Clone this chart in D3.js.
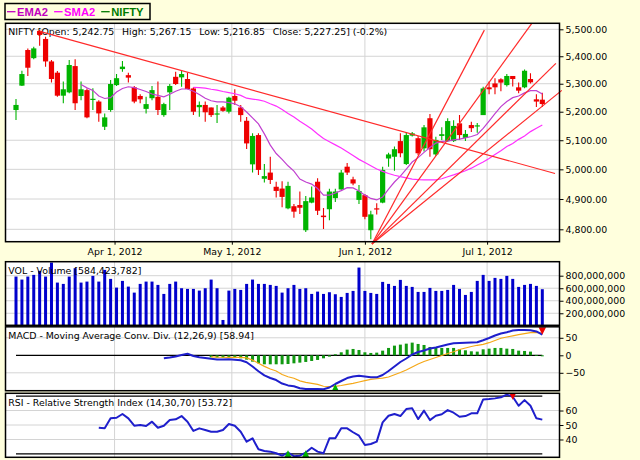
<!DOCTYPE html>
<html><head><meta charset="utf-8">
<script src="https://cdn.jsdelivr.net/npm/d3@7"></script>
<style>
html,body{margin:0;padding:0;background:#ffffdd;}
svg{display:block;}
text{font-family:"DejaVu Sans",Verdana,sans-serif;}
text.legend{font-family:"Liberation Sans",Arial,sans-serif;font-weight:bold;}
</style></head>
<body>
<svg id="chart" width="640" height="460"></svg>
<script>
// ---- trading days (NSE, 2012) ----
const marchDays = [7,9,12,13,14,15,16,19,20,21,22,23,26,27,28,29,30];
const aprilDays = [2,3,4,9,10,11,12,13,16,17,18,19,20,23,24,25,26,27,28,30];
const mayDays   = [2,3,4,7,8,9,10,11,14,15,16,17,18,21,22,23,24,25,28,29,30,31];
const juneDays  = [1,4,5,6,7,8,11,12,13,14,15,18,19,20,21,22,25,26,27,28,29];
const julyDays  = [2,3,4,5,6,9,10,11,12,13];

// ---- NIFTY OHLC ----
const openP = [5206,5293,5423,5393,5494,5464,5381,5340,5257,5269,
 5364,5256,5277,5243,5236,5147,5206,5295,5353,5331,
 5287,5256,5210,5248,5253,5188,5269,5325,5323,5317,
 5283,5216,5224,5215,5192,5215,5200,5256,5215,5168,
 5017,5118,4968,4989,4941,4935,4869,4876,4880,4797,
 4888,4958,4845,4866,4903,4932,5009,4966,4897,4913,
 4797,4869,4888,5037,5043,5097,5018,5116,5107,5072,
 5177,5051,5115,5097,5097,5159,5108,5153,5149,5188,
 5287,5301,5316,5295,5328,5287,5287,5317,5244,5242.75];
const highP = [5245,5347,5429,5435,5497,5472,5386,5346,5308,5386,
 5389,5308,5283,5284,5241,5194,5313,5335,5383,5340,
 5292,5262,5253,5292,5308,5232,5299,5343,5347,5340,
 5287,5236,5236,5215,5224,5220,5253,5280,5224,5181,
 5124,5124,5018,5043,4958,4960,4958,4883,4925,4910,
 4942,4970,4870,4934,4934,4998,5022,4975,4947,4917,
 4861,4886,5009,5057,5078,5124,5129,5129,5115,5153,
 5192,5112,5145,5177,5170,5188,5136,5165,5160,5289,
 5308,5320,5320,5335,5328,5304,5352,5338,5262,5267.15];
const lowP = [5171,5292,5328,5389,5439,5362,5304,5253,5230,5266,
 5206,5241,5177,5206,5165,5136,5200,5292,5343,5304,
 5230,5230,5194,5241,5188,5182,5206,5295,5289,5280,
 5188,5182,5165,5181,5160,5200,5194,5224,5165,5070,
 4989,4981,4955,4950,4905,4873,4866,4838,4850,4791,
 4886,4847,4801,4830,4890,4931,4981,4946,4883,4833,
 4768,4849,4886,5009,4995,5041,5015,5113,5049,5061,
 5043,5046,5101,5094,5094,5101,5097,5129,5126,5188,
 5262,5262,5273,5290,5290,5266,5284,5301,5217,5216.85];
const closeP = [5224,5335,5358,5429,5479,5381,5317,5257,5280,5368,
 5230,5280,5180,5246,5194,5180,5299,5320,5362,5322,
 5236,5244,5227,5277,5206,5227,5292,5299,5335,5281,
 5200,5224,5198,5188,5194,5203,5250,5239,5188,5089,
 5115,4998,4977,4964,4927,4907,4944,4858,4871,4893,
 4905,4861,4840,4925,4925,4989,4989,4952,4927,4841,
 4849,4866,4998,5051,5069,5055,5118,5124,5055,5145,
 5069,5101,5121,5167,5150,5118,5122,5142,5152,5283,
 5280,5287,5304,5328,5317,5275,5347,5305,5236,5227.25];

// ---- volume (millions) ----
const volumeMillions = [786,738,786,813,877,786,1010,690,669,786,
 920,690,706,797,706,893,749,610,717,626,
 530,669,706,706,653,509,669,706,600,589,
 589,562,600,738,600,93,562,589,573,669,
 738,669,669,653,637,530,600,653,589,600,
 509,546,509,536,504,461,525,557,930,557,
 525,509,701,669,637,733,637,621,541,541,
 605,557,557,573,653,589,493,541,717,813,
 717,765,749,797,749,621,653,669,637,584.42];

// ---- moving averages ----
const emaStart = 11;
const ema2 = [5297,5285,5276,5256,5247,5250,5270,5283,5289,
 5286,5279,5272,5263,5258,5253,5262,5273,5281,5281,
 5273,5261,5248,5239,5235,5235,5232,5228,5218,5199,
 5178,5157,5122,5083,5054,5034,5012,4994,4967,4957,
 4950,4935,4913,4913,4920,4928,4938,4937,4927,4913,
 4902,4897,4907,4933,4957,4977,5001,5025,5040,5058,
 5075,5090,5096,5097,5101,5104,5108,5113,5120,5141,
 5167,5193,5218,5236,5250,5256,5267,5275,5275,5263];
const smaStart = 30;
const sma2 = [5287,5286,5284,5280,5277,5272,5268,5264,5258,5248,
 5245,5242,5237,5228,5220,5208,5194,5181,5166,5153,
 5139,5122,5106,5095,5084,5073,5060,5047,5034,5023,
 5012,5001,4993,4986,4980,4975,4971,4967,4965,4964,
 4964,4964,4968,4975,4981,4988,4995,5004,5015,5025,
 5037,5051,5064,5078,5089,5103,5115,5130,5142,5153];

// ---- trend lines: [index, price] ----
const trendFromIdx   = [4, 60.2, 60.2, 60.2, 60.2];
const trendFromPrice = [5492, 4752, 4752, 4752, 4752];
const trendToIdx     = [91.15, 79.2, 87.2, 91.3, 92.3];
const trendToPrice   = [4986, 5497, 5521, 5374, 5276];

// ---- MACD (12,26,9) ----
const macdStart = 25;
const macdLine = [-8.6,-6.3,-3.4,0.9,4.3,-2,-5.7,-7.4,-10,-12,
 -12.3,-11.4,-12.6,-14.3,-19.7,-32,-45.4,-57.4,-64.9,-70.6,
 -80.6,-86,-88.3,-94,-96.3,-96.3,-96.3,-97,-92,-82,
 -73.4,-64.9,-60.6,-58.3,-60.6,-62.9,-62.9,-56.3,-44.9,-32,
 -19.1,-9.1,2.3,9.4,13.7,19.4,22.3,26.6,30.9,34.3,
 35.1,36,36.6,37.1,42.9,49.4,56.6,62.3,65.7,70.9,
 72.3,72.3,71.7,68,58.94];
const signalStart = 33;
const signalLine = [-4.3,-5.3,-5.6,-5.7,-5.9,-5.7,-7.3,-13.9,-22.5,-31.7,
 -39.2,-44.9,-54.9,-61.2,-65.4,-73,-77.3,-80.1,-83,-88.4,
 -89.1,-88.6,-86.3,-82.9,-80,-76.3,-72.3,-68.9,-66.9,-65.4,
 -62,-55.7,-49.1,-42,-33.4,-24.9,-17.7,-12,-6.3,-0.6,
 5.1,10,16.6,20.9,25.1,28.6,31.4,36,42.3,48.6,
 52.3,55.7,58.9,62,64.6,65.7,62.9];
const macdHist = [-5.7,-6.7,-6.7,-5.7,-6.7,-8.6,-12.4,-18.1,-22.9,-25.7,
 -25.7,-25.7,-25.7,-24.8,-22.9,-21,-19,-16.2,-13.3,-8.6,
 -3.8,3,8.6,16.2,18.1,15.2,8.6,6.7,7.6,13.3,
 21,27.6,30.5,33.3,36.2,32.4,29.5,23.8,21.9,21,
 21,21,17.1,14.3,11.4,10.5,17.1,19,21,21,
 19,18.1,13.3,12.4,10.5,1,-2.9];
const macdBuyIdx = [54];
const macdSellIdx = [89];

// ---- RSI (14,30,70) ----
const rsiStart = 14;
const rsi = [48.1,47.7,54.6,55,57.6,54.6,49.5,50,49.3,52.3,
 48.1,49.5,53.4,53.9,56.2,52.3,45.9,47.7,46.6,45.4,
 45.4,46.6,50.7,49.5,45.4,38.5,40.8,33.2,32.1,31.6,
 30.5,28.9,30.9,28.5,28.8,31,34.3,31.6,30.5,40.8,
 40.8,47.7,47.7,45,42.6,36.2,36.9,38.5,51.8,56.4,
 57.6,56.2,61,61.5,54.1,59.9,53.4,56.4,57.4,60.3,
 58.5,55.7,56.2,58.1,58.1,67.7,67.9,68.4,69.1,71,
 69.5,63.3,67.2,63.3,54.6,53.72];
const rsiBuyIdx = [46, 49];
const rsiSellIdx = [84];

// ---- ticks & labels ----
const priceTicks = [4800,4900,5000,5100,5200,5300,5400,5500];
const volTicks = [200,400,600,800];
const macdTicks = [-50,0,50];
const rsiTicks = [40,50,60];
const dateTicks = ["2012-04-01","2012-05-01","2012-06-01","2012-07-01"];
const titleParts = ["NIFTY [Open: 5,242.75","High: 5,267.15","Low: 5,216.85","Close: 5,227.25] (-0.2%)"];
const volTitle = "VOL - Volume [584,423,782]";
const macdTitle = "MACD - Moving Average Conv. Div. (12,26,9) [58.94]";
const rsiTitle = "RSI - Relative Strength Index (14,30,70) [53.72]";
const legendNames = ["EMA2","SMA2","NIFTY"];
const legendColors = ["#c000c0","#ff00ff","#007a00"];

// ================= drawing =================
const svg = d3.select("#chart");
const FS = 9.4;
const GREEN = "#00b400", RED = "#ee0000", GRID = "#d4d4d4";
const L = 5.5, R = 559.5;
const pricePanel = {top:23.3, bottom:241.7, id:"cp"};
const volPanel   = {top:261.7, bottom:325.3, id:"cv"};
const macdPanel  = {top:326.8, bottom:390.7, id:"cm"};
const rsiPanel   = {top:393.3, bottom:457.3, id:"cr"};
const panels = [pricePanel, volPanel, macdPanel, rsiPanel];

svg.append("rect").attr("width",640).attr("height",460).attr("fill","#ffffdd");

const parse = d3.timeParse("%Y-%m-%d");
const tradingDates = [
  ...marchDays.map(d=>new Date(2012,2,d)),
  ...aprilDays.map(d=>new Date(2012,3,d)),
  ...mayDays.map(d=>new Date(2012,4,d)),
  ...juneDays.map(d=>new Date(2012,5,d)),
  ...julyDays.map(d=>new Date(2012,6,d))];
const n = tradingDates.length;
const xi = d3.scaleLinear().domain([0, n-1]).range([16, 542.3]);
const x = d3.scaleTime().domain(tradingDates).range(tradingDates.map((d,i)=>xi(i)));
const tickDates = dateTicks.map(parse);

const yP = d3.scaleLog().domain([4759.7, 5522.5]).range([241.7, 23.3]);
const yV = d3.scaleLinear().domain([0, 1023.5]).range([325.8, 261.7]);
const yM = d3.scaleLinear().domain([-101.1, 81.4]).range([390.7, 326.8]);
const yR = d3.scaleLinear().domain([27.7, 71.9]).range([457.3, 393.3]);

const defs = svg.append("defs");
panels.forEach(p=>{
  defs.append("clipPath").attr("id",p.id).append("rect")
    .attr("x",L).attr("y",p.top).attr("width",R-L).attr("height",p.bottom-p.top);
});

function panelBase(p, yScale, ticks){
  const g = svg.append("g");
  g.append("rect").attr("x",L).attr("y",p.top).attr("width",R-L).attr("height",p.bottom-p.top).attr("fill","#fff");
  g.selectAll(".hg").data(ticks).join("line")
    .attr("x1",L).attr("x2",R).attr("y1",d=>yScale(d)).attr("y2",d=>yScale(d))
    .attr("stroke",GRID).attr("stroke-width",1);
  g.selectAll(".vg").data(tickDates).join("line")
    .attr("x1",d=>x(d)).attr("x2",d=>x(d)).attr("y1",p.top).attr("y2",p.bottom)
    .attr("stroke",GRID).attr("stroke-width",1);
  return g;
}
function panelBorder(p, yScale, ticks, fmt){
  svg.append("rect").attr("x",L).attr("y",p.top).attr("width",R-L).attr("height",p.bottom-p.top)
    .attr("fill","none").attr("stroke","#000").attr("stroke-width",1.5);
  const ax = svg.append("g").attr("transform",`translate(${R},0)`)
    .call(d3.axisRight(yScale).tickValues(ticks).tickFormat(fmt).tickSize(4).tickPadding(2));
  ax.select(".domain").remove();
  ax.selectAll("text").attr("font-size",FS).attr("fill","#000");
  ax.selectAll("line").attr("stroke","#000");
}
function panelTitle(p, txt, base){
  svg.append("text").attr("x",8.3).attr("y",base).attr("font-size",FS).attr("fill","#000").text(txt);
}

// ---- price panel ----
panelBase(pricePanel, yP, priceTicks);
{
  const gapPx = 7.7;
  let cx = 8.3;
  titleParts.forEach(t=>{
    const el = svg.append("text").attr("x",cx).attr("y",35).attr("font-size",FS).attr("fill","#000").text(t);
    cx += el.node().getComputedTextLength() + gapPx;
  });
}
const gPrice = svg.append("g").attr("clip-path","url(#cp)");
const candles = tradingDates.map((d,i)=>({d,o:openP[i],h:highP[i],l:lowP[i],c:closeP[i]}));
gPrice.selectAll(".wick").data(candles).join("line")
  .attr("x1",d=>x(d.d)).attr("x2",d=>x(d.d))
  .attr("y1",d=>yP(d.h)).attr("y2",d=>yP(d.l))
  .attr("stroke",d=>d.c>=d.o?GREEN:RED).attr("stroke-width",1.1);
gPrice.selectAll(".body").data(candles).join("rect")
  .attr("x",d=>x(d.d)-2.6).attr("width",5.2)
  .attr("y",d=>yP(Math.max(d.o,d.c)))
  .attr("height",d=>Math.max(1.2, yP(Math.min(d.o,d.c))-yP(Math.max(d.o,d.c))))
  .attr("fill",d=>d.c>=d.o?GREEN:RED);

const lineP = d3.line().x(d=>x(d.d)).y(d=>yP(d.v));
gPrice.append("path").datum(ema2.map((v,i)=>({d:tradingDates[emaStart+i],v})))
  .attr("d",lineP).attr("fill","none").attr("stroke","#c040d0").attr("stroke-width",1.2);
gPrice.append("path").datum(sma2.map((v,i)=>({d:tradingDates[smaStart+i],v})))
  .attr("d",lineP).attr("fill","none").attr("stroke","#ff30ff").attr("stroke-width",1.2);

svg.append("g").selectAll("line").data(trendFromIdx.map((f,i)=>i)).join("line")
  .attr("x1",i=>xi(trendFromIdx[i])).attr("y1",i=>yP(trendFromPrice[i]))
  .attr("x2",i=>xi(trendToIdx[i])).attr("y2",i=>yP(trendToPrice[i]))
  .attr("stroke","#ff2a2a").attr("stroke-width",1.2);

panelBorder(pricePanel, yP, priceTicks, d3.format(",.2f"));
{
  const ax = svg.append("g").attr("transform",`translate(0,${pricePanel.bottom})`)
    .call(d3.axisBottom(x).tickValues(tickDates).tickFormat(d3.timeFormat("%b %-d, %Y")).tickSize(3).tickPadding(3.5));
  ax.select(".domain").remove();
  ax.selectAll("text").attr("font-size",FS).attr("fill","#000");
  ax.selectAll("line").attr("stroke","#000");
}

// ---- volume panel ----
panelBase(volPanel, yV, volTicks);
svg.append("g").attr("clip-path","url(#cv)").selectAll("rect").data(volumeMillions).join("rect")
  .attr("x",(v,i)=>x(tradingDates[i])-1.5).attr("width",3)
  .attr("y",v=>yV(v)).attr("height",v=>yV(0)-yV(v))
  .attr("fill","#0000cc");
panelTitle(volPanel, volTitle, 273.5);
panelBorder(volPanel, yV, volTicks, d=>d3.format(",")(d*1e6));

// ---- MACD panel ----
panelBase(macdPanel, yM, macdTicks.filter(t=>t!==0));
const gM = svg.append("g").attr("clip-path","url(#cm)");
gM.append("line").attr("x1",xi(0)).attr("x2",xi(n-1)).attr("y1",yM(0)).attr("y2",yM(0))
  .attr("stroke","#000").attr("stroke-width",1.2);
gM.selectAll(".hb").data(macdHist).join("rect")
  .attr("x",(v,i)=>x(tradingDates[signalStart+i])-1.5).attr("width",3)
  .attr("y",v=>Math.min(yM(v),yM(0))).attr("height",v=>Math.max(0.8,Math.abs(yM(v)-yM(0))))
  .attr("fill","#119911");
const lineM = d3.line().x(d=>x(d.d)).y(d=>yM(d.v));
gM.append("path").datum(signalLine.map((v,i)=>({d:tradingDates[signalStart+i],v})))
  .attr("d",lineM).attr("fill","none").attr("stroke","#f5a818").attr("stroke-width",1.2);
gM.append("path").datum(macdLine.map((v,i)=>({d:tradingDates[macdStart+i],v})))
  .attr("d",lineM).attr("fill","none").attr("stroke","#1f1fcc").attr("stroke-width",2).attr("stroke-linejoin","round");
const tri = 7.5;
gM.selectAll(".mb").data(macdBuyIdx).join("path")
  .attr("d",i=>{const cx=x(tradingDates[i]), cy=yM(macdLine[i-macdStart]);
    return `M${cx},${cy}L${cx+tri/2},${cy+tri}L${cx-tri/2},${cy+tri}Z`;})
  .attr("fill",GREEN);
gM.selectAll(".ms").data(macdSellIdx).join("path")
  .attr("d",i=>{const cx=x(tradingDates[i]), cy=yM(macdLine[i-macdStart]);
    return `M${cx},${cy}L${cx+tri/2},${cy-tri}L${cx-tri/2},${cy-tri}Z`;})
  .attr("fill",RED);
panelTitle(macdPanel, macdTitle, 339);
panelBorder(macdPanel, yM, macdTicks, d3.format("d"));

// ---- RSI panel ----
panelBase(rsiPanel, yR, rsiTicks);
const gR = svg.append("g").attr("clip-path","url(#cr)");
[30,70].forEach(t=>{
  gR.append("line").attr("x1",xi(0)).attr("x2",xi(n-1)).attr("y1",yR(t)).attr("y2",yR(t))
    .attr("stroke","#000").attr("stroke-width",1.2);
});
gR.append("path").datum(rsi.map((v,i)=>({d:tradingDates[rsiStart+i],v})))
  .attr("d",d3.line().x(d=>x(d.d)).y(d=>yR(d.v)))
  .attr("fill","none").attr("stroke","#1f1fcc").attr("stroke-width",2).attr("stroke-linejoin","round");
gR.selectAll(".rb").data(rsiBuyIdx).join("path")
  .attr("d",i=>{const cx=x(tradingDates[i]), cy=yR(30);
    return `M${cx},${cy-tri/2}L${cx+tri/2},${cy+tri/2}L${cx-tri/2},${cy+tri/2}Z`;})
  .attr("fill",GREEN);
gR.selectAll(".rs").data(rsiSellIdx).join("path")
  .attr("d",i=>{const cx=x(tradingDates[i]), cy=yR(70);
    return `M${cx},${cy+tri/2}L${cx+tri/2},${cy-tri/2}L${cx-tri/2},${cy-tri/2}Z`;})
  .attr("fill",RED);
panelTitle(rsiPanel, rsiTitle, 405.5);
panelBorder(rsiPanel, yR, rsiTicks, d3.format("d"));

// ---- legend ----
{
  const lg = svg.append("g");
  lg.append("rect").attr("x",5).attr("y",3.5).attr("width",145).attr("height",16)
    .attr("fill","none").attr("stroke","#000").attr("stroke-width",1.5);
  let cx = 7;
  legendNames.forEach((name,i)=>{
    lg.append("line").attr("x1",cx).attr("x2",cx+8.5).attr("y1",11.7).attr("y2",11.7)
      .attr("stroke",legendColors[i]).attr("stroke-width",1.3);
    const t = lg.append("text").attr("class","legend").attr("x",cx+10).attr("y",16)
      .attr("font-size",11.2).attr("fill",legendColors[i]).text(name);
    cx += 10 + t.node().getComputedTextLength() + 6;
  });
}
</script>
</body></html>
